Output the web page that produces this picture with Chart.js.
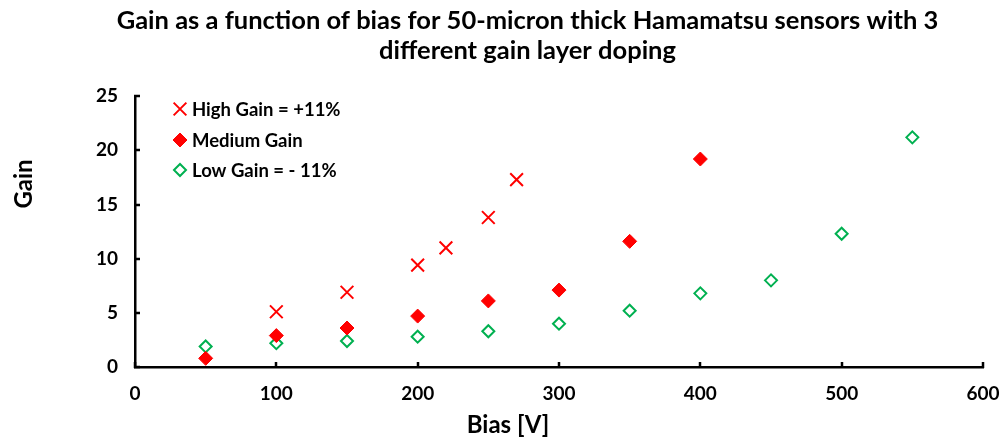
<!DOCTYPE html>
<html>
<head>
<meta charset="utf-8">
<script src="https://cdn.jsdelivr.net/npm/chart.js@4/dist/chart.umd.min.js"></script>
<style>
  html, body { margin: 0; padding: 0; background: #fff; }
  #wrap { width: 1001px; height: 441px; position: relative; }
</style>
</head>
<body>
<div id="wrap"><canvas id="gainChart" width="1001" height="441"></canvas></div>
<script>
const highBias = [100, 150, 200, 220, 250, 270]
const highGain = [5.1, 6.9, 9.4, 11.0, 13.8, 17.3]

const medBias = [50, 100, 150, 200, 250, 300, 350, 400]
const medGain = [0.8, 2.9, 3.6, 4.7, 6.1, 7.1, 11.6, 19.2]

const lowBias = [50, 100, 150, 200, 250, 300, 350, 400, 450, 500, 550]
const lowGain = [1.9, 2.2, 2.4, 2.8, 3.3, 4.0, 5.2, 6.8, 8.0, 12.3, 21.2]

const seriesNames = ['High Gain = +11%', 'Medium Gain', 'Low Gain = - 11%']

function toPoints(xs, ys) {
    const pts = []
    for (let i = 0; i < xs.length; i++) {
        pts.push({x: xs[i], y: ys[i]})
    }
    return pts
}

const FONT = 'Lato, Carlito, Calibri, sans-serif'

// legend sits inside the plot, top-left, one entry per row
const insideLegend = {
    id: 'insideLegend',
    afterDraw(chart) {
        const c = chart.ctx
        const rows = [109, 140, 170]
        c.save()
        chart.data.datasets.forEach((ds, i) => {
            c.strokeStyle = ds.borderColor
            c.fillStyle = ds.backgroundColor
            c.lineWidth = ds.pointBorderWidth
            Chart.helpers.drawPoint(c, {
                pointStyle: ds.pointStyle,
                radius: ds.pointRadius,
                borderWidth: ds.pointBorderWidth
            }, 180, rows[i])
            c.fillStyle = '#000'
            c.font = 'bold 18.5px ' + FONT
            c.textBaseline = 'middle'
            c.textAlign = 'left'
            c.fillText(ds.label, 192, rows[i] + 1)
        })
        c.restore()
    }
}

// axis titles where Excel put them
const axisTitles = {
    id: 'axisTitles',
    afterDraw(chart) {
        const c = chart.ctx
        c.save()
        c.fillStyle = '#000'
        c.font = 'bold 24px ' + FONT
        c.textAlign = 'center'
        c.textBaseline = 'middle'
        c.fillText('Bias [V]', 508, 425)
        c.translate(24, 184)
        c.rotate(-Math.PI / 2)
        c.fillText('Gain', 0, 0)
        c.restore()
    }
}

// Excel style tick marks pointing into the plot
const innerTicks = {
    id: 'innerTicks',
    afterDraw(chart) {
        const c = chart.ctx
        const xs = chart.scales.x
        const ys = chart.scales.y
        const area = chart.chartArea
        c.save()
        c.strokeStyle = '#000'
        c.lineWidth = 2.5
        c.beginPath()
        xs.ticks.forEach(t => {
            const px = Math.round(xs.getPixelForValue(t.value))
            c.moveTo(px, area.bottom + 1)
            c.lineTo(px, area.bottom - 5)
        })
        ys.ticks.forEach(t => {
            const py = Math.round(ys.getPixelForValue(t.value))
            c.moveTo(area.left - 1, py)
            c.lineTo(area.left + 5, py)
        })
        c.stroke()
        c.restore()
    }
}

const ctx_gain = document.getElementById('gainChart').getContext('2d')
const gainChart = new Chart(ctx_gain, {
    type: 'scatter',
    data: {
        datasets: [{
            label: seriesNames[0],
            data: toPoints(highBias, highGain),
            pointStyle: 'crossRot',
            pointRadius: 9,
            pointBorderWidth: 2,
            borderColor: '#ff0000',
            backgroundColor: '#ff0000'
        }, {
            label: seriesNames[1],
            data: toPoints(medBias, medGain),
            pointStyle: 'rectRot',
            pointRadius: 7,
            pointBorderWidth: 1,
            borderColor: '#ff0000',
            backgroundColor: '#ff0000'
        }, {
            label: seriesNames[2],
            data: toPoints(lowBias, lowGain),
            pointStyle: 'rectRot',
            pointRadius: 6,
            pointBorderWidth: 2,
            borderColor: '#00b050',
            backgroundColor: '#ffffff'
        }]
    },
    options: {
        responsive: false,
        animation: false,
        events: [],
        layout: {
            padding: {left: 54, right: 0, top: 0, bottom: 0}
        },
        plugins: {
            legend: {display: false},
            tooltip: {enabled: false},
            title: {
                display: true,
                text: ['Gain as a function of bias for 50-micron thick Hamamatsu sensors with 3',
                       'different gain layer doping'],
                color: '#000',
                font: {family: FONT, size: 25.5, weight: 'bold', lineHeight: 1.2},
                padding: {top: 5, bottom: 30}
            }
        },
        scales: {
            x: {
                type: 'linear',
                min: 0,
                max: 600,
                ticks: {
                    stepSize: 100,
                    color: '#000',
                    font: {family: FONT, size: 19, weight: 'bold'},
                    padding: 15,
                    maxRotation: 0
                },
                grid: {
                    drawOnChartArea: false,
                    drawTicks: false
                },
                border: {display: true, color: '#000', width: 2.5},
                afterFit(scale) {
                    scale.height = 74
                    scale.paddingRight = 18
                }
            },
            y: {
                min: 0,
                max: 25,
                ticks: {
                    stepSize: 5,
                    color: '#000',
                    font: {family: FONT, size: 19, weight: 'bold'},
                    padding: 17
                },
                grid: {
                    drawOnChartArea: false,
                    drawTicks: false
                },
                border: {display: true, color: '#000', width: 2.5},
                afterFit(scale) { scale.width = 81 }
            }
        }
    },
    plugins: [innerTicks, insideLegend, axisTitles]
})
</script>
</body>
</html>
